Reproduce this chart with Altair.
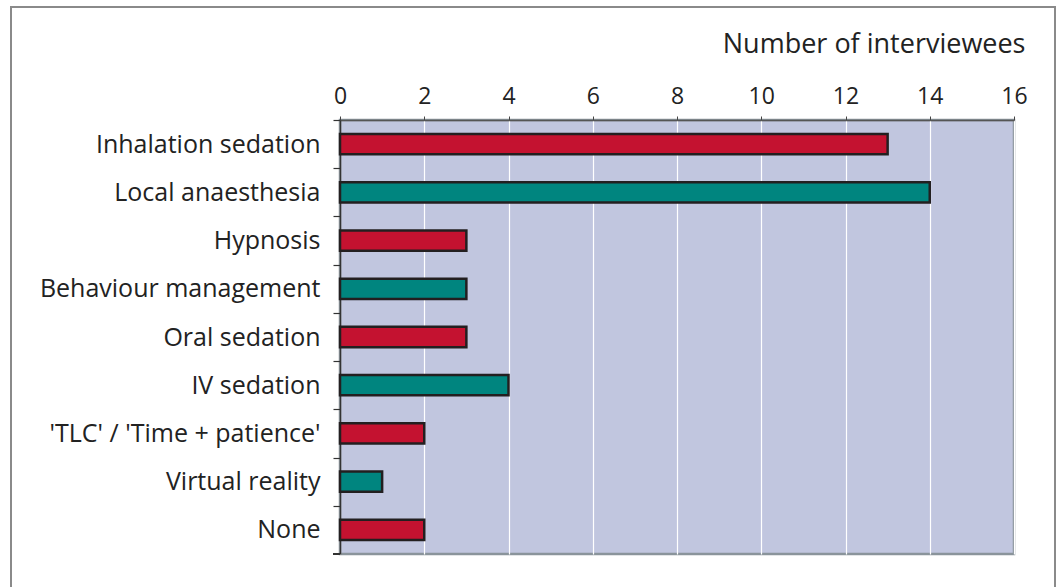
import altair as alt
import pandas as pd

categories = ["Inhalation sedation", "Local anaesthesia", "Hypnosis", "Behaviour management",
              "Oral sedation", "IV sedation", "'TLC' / 'Time + patience'", "Virtual reality", "None"]
values = [13, 14, 3, 3, 3, 4, 2, 1, 2]
groups = ["a", "b", "a", "b", "a", "b", "a", "b", "a"]
x_ticks = [0, 2, 4, 6, 8, 10, 12, 14, 16]

df = pd.DataFrame({"method": categories, "count": values, "group": groups})

FONT = "Open Sans"
W, H = 674, 434
STEP = H / len(categories)

bars = alt.Chart(df).mark_bar(stroke="#231f20", strokeWidth=2.5).encode(
    x=alt.X("count:Q",
            scale=alt.Scale(domain=[0, 16], nice=False),
            axis=alt.Axis(orient="top", values=x_ticks, title="Number of interviewees",
                          titleAnchor="end", titleAlign="right", titleX=685, titleY=-68,
                          titleBaseline="alphabetic", titleFontSize=27, titleFontWeight="normal",
                          titleColor="#222", titleFont=FONT,
                          labelFont=FONT, labelFontSize=23, labelColor="#222",
                          labelBaseline="alphabetic", labelPadding=13, labelFlush=False,
                          tickSize=4, tickColor="#444", tickWidth=1,
                          domainColor="#555", domainWidth=1.5,
                          grid=True, gridColor="white", gridWidth=1.2)),
    y=alt.Y("method:N", sort=categories,
            scale=alt.Scale(paddingInner=0.58, paddingOuter=0.29),
            axis=alt.Axis(title=None, tickOffset=-STEP / 2, labelOffset=STEP / 2,
                          tickSize=7, tickColor="#333",
                          tickWidth=1.2, domainColor="#333", domainWidth=1.5,
                          labelFont=FONT, labelFontSize=25, labelColor="#222",
                          labelPadding=13, labelLimit=0, grid=False)),
    color=alt.Color("group:N", scale=alt.Scale(domain=["a", "b"], range=["#c41230", "#00857f"]),
                    legend=None),
)

end_tick = alt.Chart(df).mark_rule(color="#333", strokeWidth=1.2).encode(
    x=alt.value(-7), x2=alt.value(0), y=alt.value(H)
)

frame = alt.Chart(df).mark_rect(fill=None, stroke="#8a8a8a", strokeWidth=2).encode(
    x=alt.value(-329), x2=alt.value(715), y=alt.value(-113), y2=alt.value(480)
)

chart = alt.layer(bars, end_tick, frame).properties(
    width=W, height=H,
    autosize=alt.AutoSizeParams(type="none"),
    padding={"left": 340, "top": 120, "right": 43, "bottom": 33},
    background="white",
).configure_view(fill="#c1c6df", stroke="#8a949b", strokeWidth=2.5)

chart.save("out.html", embed_options={"renderer": "svg", "actions": False})
